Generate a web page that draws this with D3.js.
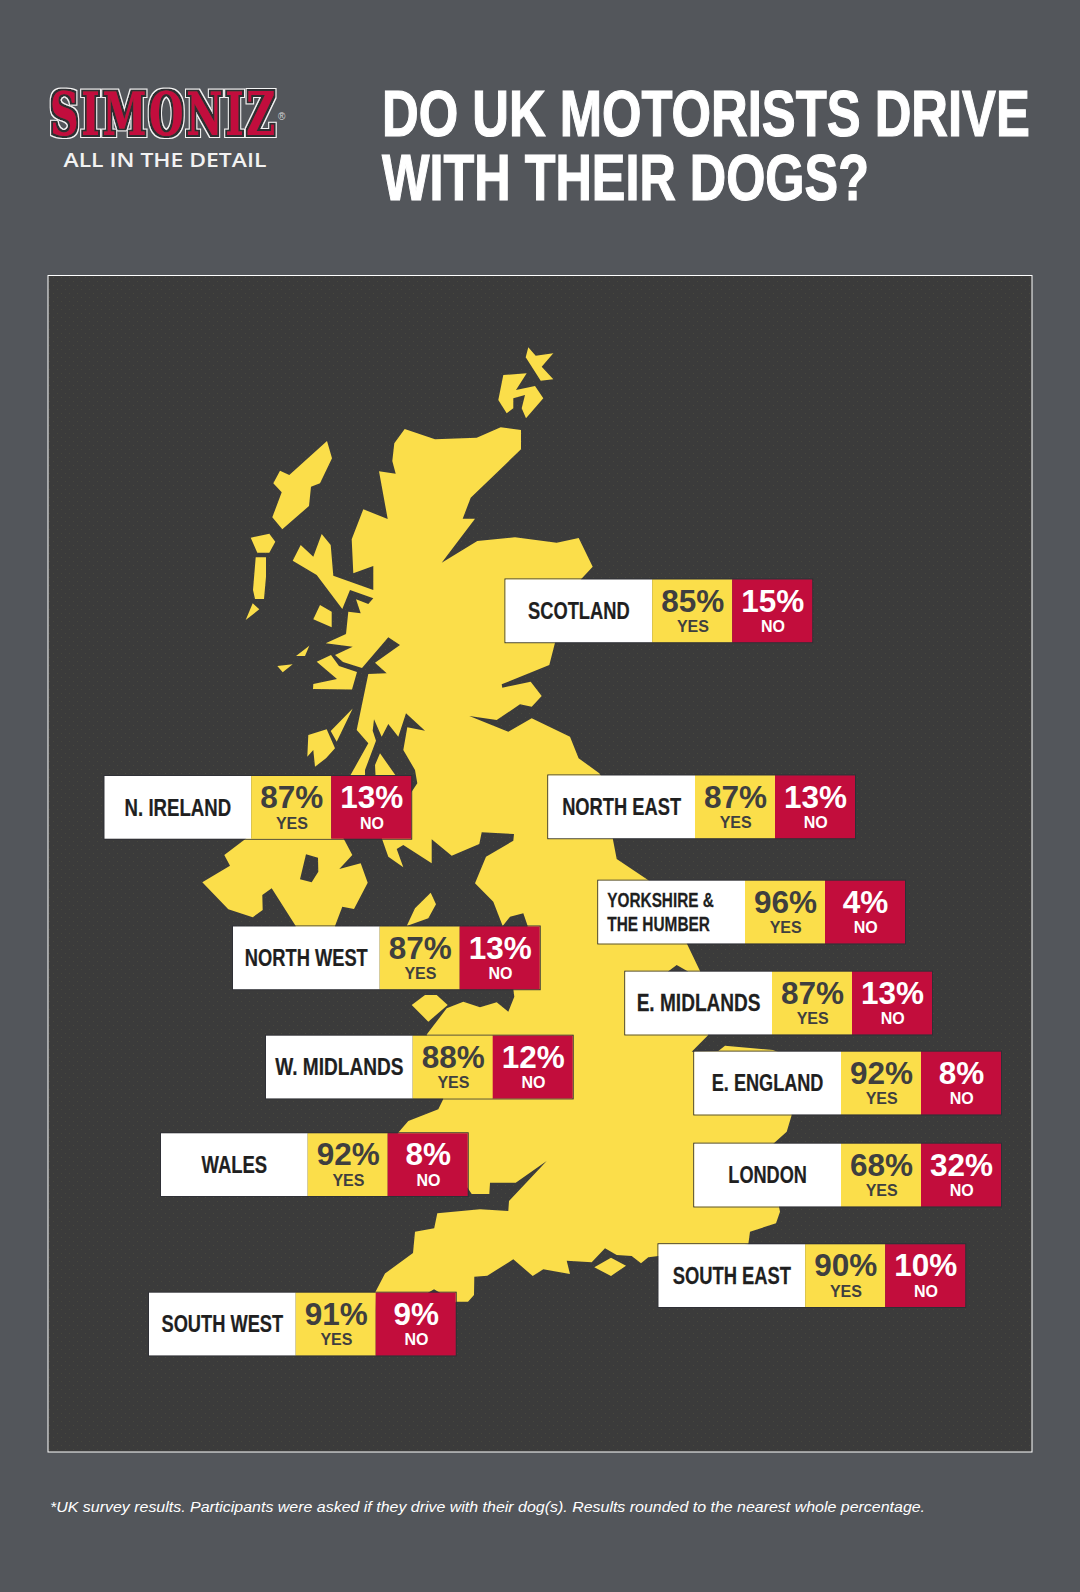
<!DOCTYPE html>
<html><head><meta charset="utf-8">
<style>html,body{margin:0;padding:0;background:#53565b}svg{display:block}</style>
<script src="https://cdn.jsdelivr.net/npm/d3@7/dist/d3.min.js"></script>
</head><body><div id="chart"></div>
<script>
// ---- survey values ----
const regions = [["SCOTLAND"],["NORTH EAST"],["N. IRELAND"],["YORKSHIRE &","THE HUMBER"],["NORTH WEST"],["E. MIDLANDS"],["W. MIDLANDS"],["E. ENGLAND"],["WALES"],["LONDON"],["SOUTH EAST"],["SOUTH WEST"]];
const yesValues = [85,87,87,96,87,87,88,92,92,68,90,91];
const noValues  = [15,13,13,4,13,13,12,8,8,32,10,9];
// ---- label placement on the map (map units) ----
const boxLeft = [505.5,548.3,104.5,598.3,233,625.3,266,694.3,161,694.3,658.5,149];
const boxTop  = [579.5,775.5,776,880.7,926.5,971.7,1035.7,1051.7,1133.3,1143.7,1244.3,1292.7];
const labelWidths = [[101.7],[119],[106.5],[106.7,102.7],[123],[124],[128.3],[111.7],[65.7],[78.7],[118.4],[121.7]];
// ---- map outlines (map units) ----
const mainland = [[404.7,429],[435,439.3],[476.7,437.7],[500.7,427.3],[521,430],[521,449.3],[470.7,497.7],[462.7,518.7],[475,518.7],[441.7,562.7],[477.3,541],[515,537.3],[556.7,542.7],[578.7,538],[592.7,566.7],[581,579.3],[555,642.7],[549.3,665],[501.7,684.3],[502.3,687.7],[530.7,681.7],[541.7,696],[531.7,706.7],[520,704.3],[496.7,720],[469.3,716],[508.3,731.7],[531.7,718.3],[570,736.7],[578.6,758.2],[599.3,773.3],[601,776],[612.7,838.3],[616.7,859],[648,880],[650,882],[686.7,943.3],[700,971],[702,985],[690,985],[688,971.5],[676.7,965],[668,971.5],[665,985],[695,1000],[708.3,1035],[691.7,1051.7],[718.3,1051],[725,1045.7],[773,1050],[778,1052],[791.7,1115],[786.7,1131.7],[773.3,1143.7],[779,1206.7],[780,1211.7],[776,1223.3],[750,1231.7],[748.3,1244.3],[720,1250],[658.7,1256],[648.3,1257.3],[641,1263.3],[631.7,1256],[616.7,1255],[605,1248.3],[591.7,1262.3],[566.7,1260.7],[570,1274],[543.3,1269.3],[532.7,1276],[513.3,1259.3],[487.3,1275.7],[474.3,1276.7],[474,1295],[468,1301.7],[456,1301.7],[445,1310],[440,1292.7],[434,1289.3],[428,1292.7],[415,1310],[376,1310],[375,1292.7],[385,1273.5],[413,1253],[415,1231.7],[434.2,1228.3],[437.3,1213.3],[480,1209.3],[508.3,1211],[509,1201],[546.7,1161],[515.7,1182.7],[490,1182.7],[489.3,1194],[471.7,1194],[467.7,1188],[440,1160],[397.7,1133.3],[408.3,1121],[438.3,1109.3],[443.3,1099],[435,1070],[426.7,1034.5],[446.7,1008.3],[463.3,1001.7],[480,1007.3],[496.7,1002.3],[508.3,1011.7],[514.3,996.7],[513.3,989],[527.7,926],[523.3,913.3],[510,916.7],[502.7,926],[493.3,901.7],[475,883.3],[486,856.7],[513.3,840.7],[514,834],[481.7,832.3],[479.3,844],[451.7,855.7],[431.7,839.3],[431.7,863.3],[403.3,845],[396.7,849],[403.3,867.3],[388.3,856.7],[381.7,838],[395,815],[411.7,791.7],[417.3,783.3],[415,770],[403.3,750],[407.3,727.3],[425,730.7],[406,713.3],[398.3,736.7],[388.3,724],[381.7,736.7],[374,719.3],[372.7,730.7],[376,740.7],[365,770],[365,776],[360,790],[350,776],[368.3,743.3],[356.7,730],[368.3,674],[386.7,673.3],[375,662.7],[400,645],[388.3,637.3],[362,668],[343,662],[335,655],[352.7,646.7],[325.7,643.3],[346,634],[348.3,611.7],[360.7,613.3],[356,599.3],[368.3,604],[373.3,598.3],[350,590],[342.3,609],[316.7,575],[292.7,560.7],[300.7,545],[313.3,556.7],[321.7,534],[330.7,545],[333.3,575.7],[373.3,590],[373.3,566],[353.3,573.3],[351.7,539.3],[363.3,509.3],[387.7,519],[379,471.3],[395.7,473.7],[392.3,461],[394.3,443.3]];
const orkneyNorth = [[528.3,347.3],[535.7,355.7],[553.3,353.3],[541.7,366.7],[553.3,379.3],[540.7,380.7],[525.7,357.3]];
const orkneyMain = [[503.3,375],[526.7,373.3],[516,390],[535,386],[543.3,398.3],[526,418.3],[521.7,408.3],[525,395],[513.3,398.3],[513.3,408.3],[506.7,413.3],[498.3,400]];
const lewis = [[327,441],[332,458.3],[320,483.3],[311,486.7],[309,506],[282.3,529.3],[272.3,517.3],[281.7,492.3],[273.3,483.3],[280,470.7],[289.3,475]];
const northUist = [[250.7,537.7],[269.3,533.7],[275.3,541.7],[269.3,552.7],[257.3,552.7]];
const southUist = [[255.7,557.3],[266,557.3],[266,576.7],[264,599],[255,599],[253,590]];
const barra = [[252.7,603.3],[259.3,609.3],[245.7,620]];
const rum = [[320,605],[331.7,611.7],[331.7,627.3],[313.3,619.3]];
const coll = [[309.3,645.7],[305,656],[296,656]];
const tiree = [[277.3,666],[292.7,664.3],[282.7,672.3]];
const mull = [[316.7,661.7],[331,655],[339,666],[357,672],[352,689.5],[313,689],[313.3,684],[337,679]];
const jura = [[352.7,708.5],[336.7,741.7],[330.7,731]];
const islay = [[326.7,729.3],[335,748.3],[326,758.3],[315,766.7],[313.3,750],[307.3,756.7],[308.3,735]];
const arran = [[380,753.3],[375,765],[376,785],[396,785],[396,776]];
const ireland = [[246.7,838],[224.3,855],[230,865.7],[202.3,882.3],[228.3,909.3],[252.7,917.3],[262.7,910],[262.3,895],[271.7,888.3],[295.7,926],[296,950],[335,950],[335,926],[342.3,906.7],[354,909],[367.7,882.7],[360.7,863.3],[339.3,869],[352.3,855],[343.3,838]];
const loughNeagh = [[306,854.3],[318,857.7],[318.3,871.7],[311.7,882.3],[300,879.3]];
const isleOfMan = [[430.7,892.7],[436,904.3],[428.3,918.3],[406.7,926],[415,908.3]];
const anglesey = [[411.7,1005],[425,995],[436.7,995],[447.7,1005],[428.3,1021.7]];
const isleOfWight = [[594.3,1267.3],[611,1257.7],[626,1265.7],[611,1276]];
const landPolygons = [[mainland],[orkneyNorth],[orkneyMain],[lewis],[northUist],[southUist],[barra],[rum],[coll],[tiree],[mull],[jura],[islay],[arran],[ireland,loughNeagh],[isleOfMan],[anglesey],[isleOfWight]];
// ---- heading texts ----
const titleLines = ["DO UK MOTORISTS DRIVE","WITH THEIR DOGS?"];
const footnote = "*UK survey results. Participants were asked if they drive with their dog(s). Results rounded to the nearest whole percentage.";

const W=1080,H=1592;
const BG="#53565b",PANEL="#3b3b3b",YEL="#fbde4a",RED="#c20d3c",INK="#3f3f3f",LABEL="#1f1f1f";
const SANS='"Liberation Sans",Arial,sans-serif';
const svg=d3.select("#chart").append("svg").attr("width",W).attr("height",H).attr("viewBox",[0,0,W,H]);
svg.append("rect").attr("width",W).attr("height",H).attr("fill",BG);

// squeeze a text horizontally so that it spans the wanted width
function fit(sel,x,y,width){
  sel.attr("transform",function(){
    const sx=width/this.getComputedTextLength();
    return `translate(${x},${y}) scale(${sx},1)`;
  });
  return sel;
}

const defs=svg.append("defs");
const pat=defs.append("pattern").attr("id","dots").attr("width",8).attr("height",8).attr("patternUnits","userSpaceOnUse");
pat.append("rect").attr("width",8).attr("height",8).attr("fill",PANEL);
[[1.5,1.5],[5.5,5.5]].forEach(([cx,cy])=>pat.append("circle").attr("cx",cx).attr("cy",cy).attr("r",.5).attr("fill","#4a4a3f"));

const outline=defs.append("filter").attr("id","logoOutline").attr("filterUnits","userSpaceOnUse").attr("x",30).attr("y",70).attr("width",280).attr("height",90);
outline.append("feMorphology").attr("in","SourceAlpha").attr("operator","dilate").attr("radius",1.5).attr("result","inner");
outline.append("feMorphology").attr("in","SourceAlpha").attr("operator","dilate").attr("radius",3).attr("result","outer");
outline.append("feFlood").attr("flood-color","#f4f4f4").attr("result","w");
outline.append("feComposite").attr("in","w").attr("in2","outer").attr("operator","in").attr("result","wo");
outline.append("feFlood").attr("flood-color","#2e2e30").attr("result","k");
outline.append("feComposite").attr("in","k").attr("in2","inner").attr("operator","in").attr("result","ki");
const merge=outline.append("feMerge");
["wo","ki","SourceGraphic"].forEach(n=>merge.append("feMergeNode").attr("in",n));

// logo
const logo=svg.append("g").attr("filter","url(#logoOutline)");
fit(logo.append("text").text("SIMONIZ").attr("font-family",'"DejaVu Serif",serif').attr("font-weight",700).attr("font-size",60).attr("letter-spacing",4).attr("fill",RED),50,135,228);
svg.append("text").text("®").attr("x",278).attr("y",119.5).attr("font-size",10).attr("fill","#d8d8d8").attr("font-family",SANS);
fit(svg.append("text").text("ALL IN THE DETAIL").attr("font-family",'"Open Sans",sans-serif').attr("font-weight",600).attr("font-size",20).attr("fill","#f2f2f2"),63.5,166.5,203);

// title
const titleWidths=[648,487];
svg.append("g").selectAll("text").data(titleLines).join("text").text(d=>d)
  .attr("font-family",SANS).attr("font-weight",700).attr("font-size",65)
  .attr("fill","#fff").attr("stroke","#fff").attr("stroke-width",1.2)
  .each(function(d,i){ fit(d3.select(this),382,135.5+i*64,titleWidths[i]); });

// panel
svg.append("rect").attr("x",48).attr("y",275.5).attr("width",984).attr("height",1176.5).attr("fill","url(#dots)").attr("stroke","#fff").attr("stroke-width",1);

// map
const path=d3.geoPath(d3.geoIdentity());
svg.append("path").datum({type:"MultiPolygon",coordinates:landPolygons.map(p=>p.map(r=>[...r,r[0]]))})
  .attr("d",path).attr("fill",YEL).attr("fill-rule","evenodd");

// label cards
const sectionX=d3.scaleOrdinal().domain(["label","yes","no","end"]).range([0,146.7,226.7,306.7]);
const cardH=62.7;
const rows=regions.map((r,i)=>({name:r,yes:yesValues[i],no:noValues[i],x:boxLeft[i],y:boxTop[i],w:labelWidths[i]}));
const card=svg.append("g").selectAll("g").data(rows).join("g").attr("transform",d=>`translate(${d.x},${d.y})`);
card.append("rect").attr("x",-.5).attr("y",-.5).attr("width",sectionX("end")+1).attr("height",cardH+1).attr("fill","none").attr("stroke","#2f3036").attr("stroke-width",1);
card.append("rect").attr("width",sectionX("yes")).attr("height",cardH).attr("fill","#fff");
card.append("rect").attr("x",sectionX("yes")).attr("width",sectionX("no")-sectionX("yes")).attr("height",cardH).attr("fill",YEL);
card.append("rect").attr("x",sectionX("no")).attr("width",sectionX("end")-sectionX("no")).attr("height",cardH).attr("fill",RED);

card.each(function(d){
  const g=d3.select(this), two=d.name.length>1, cx=sectionX("yes")/2;
  d.name.forEach((t,j)=>{
    const tx=g.append("text").text(t).attr("font-family",SANS).attr("font-weight",700).attr("fill",LABEL)
     .attr("stroke",LABEL).attr("stroke-width",.25).attr("font-size",two?21:24.5);
    fit(tx,two?9:cx-d.w[j]/2,two?26.6+j*23.7:39.7,d.w[j]);
  });
});
const pct=v=>v+"%";
[["yes",d=>d.yes,"YES",INK],["no",d=>d.no,"NO","#fff"]].forEach(([key,val,word,col])=>{
  const next=key==="yes"?"no":"end", mid=(sectionX(key)+sectionX(next))/2;
  card.append("text").text(d=>pct(val(d))).attr("x",mid+.5).attr("y",32.2).attr("text-anchor","middle").attr("font-family",SANS).attr("font-weight",700).attr("font-size",31.5).attr("fill",col);
  card.append("text").text(word).attr("x",mid+.7).attr("y",52.5).attr("text-anchor","middle").attr("font-family",SANS).attr("font-weight",700).attr("font-size",16).attr("fill",col);
});

// footnote
fit(svg.append("text").text(footnote).attr("font-family",SANS).attr("font-style","italic").attr("font-size",15.5).attr("fill","#fff"),50,1511.5,876);
</script></body></html>
